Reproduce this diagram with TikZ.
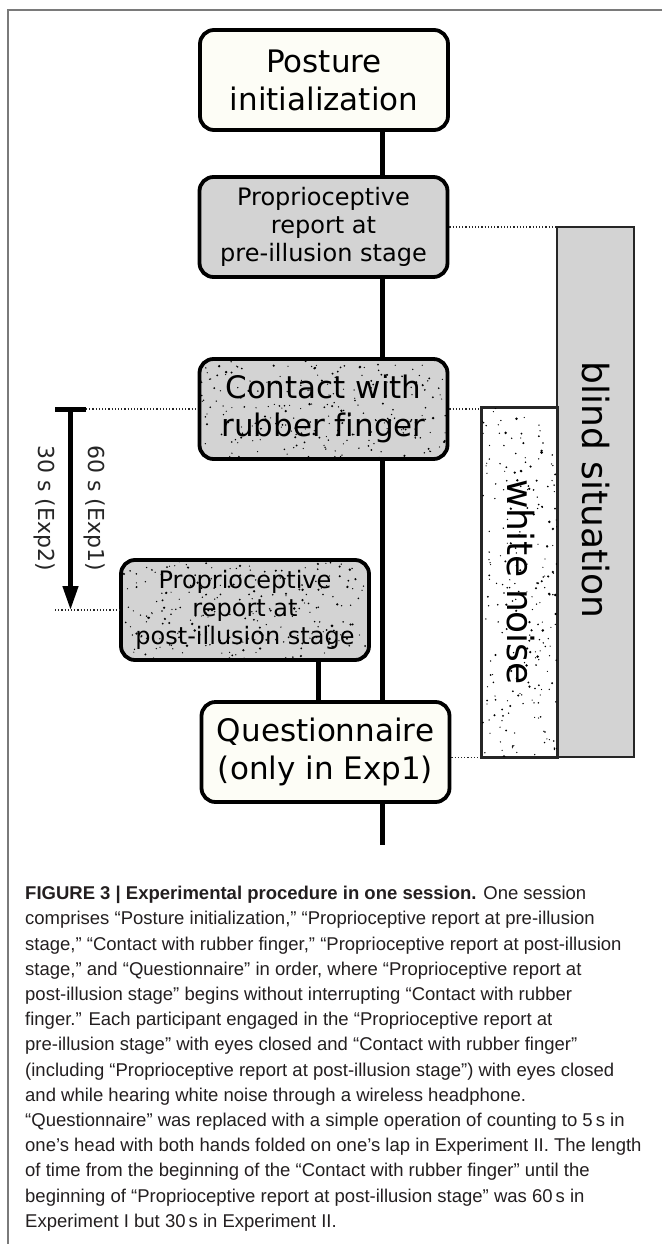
\documentclass[tikz,border=0pt]{standalone}
\usepackage{fontspec}
\setmainfont{DejaVu Sans}[Ligatures=NoCommon]
\newfontfamily\capfont{Liberation Sans}
\usetikzlibrary{calc,arrows.meta}
\definecolor{boxgray}{HTML}{D3D3D3}
\definecolor{cream}{HTML}{FDFDF6}
\definecolor{framegray}{HTML}{7A7A7A}
\definecolor{captext}{HTML}{231F20}
% #1,#2 top-left corner; #3 width; #4 height; #5 count; #6 corner radius
\newcommand{\stipple}[6]{%
  \begin{scope}
  \clip[rounded corners=#6] (#1,#2) rectangle ++(#3,#4);
  \foreach \k in {1,...,#5}{
    \pgfmathsetmacro{\spx}{#1+rnd*#3}
    \pgfmathsetmacro{\spy}{#2+rnd*#4}
    \pgfmathsetmacro{\spr}{0.6+1.0*rnd*rnd}
    \fill[black] (\spx,\spy) circle[radius=\spr pt];
  }
  \end{scope}}
\begin{document}
\begin{tikzpicture}[x=1pt,y=-1pt,
  box/.style={draw=black, line width=3.8pt, rounded corners=14pt, minimum width=248pt, minimum height=100pt, align=center, inner sep=0pt},
  bigtext/.style={font=\fontsize{31}{38}\selectfont},
  smalltext/.style={font=\fontsize{24}{28}\selectfont},
  spineline/.style={line width=5pt},
  dotline/.style={dotted, line width=1.2pt, black!85},
  band/.style={draw=black!85, line width=1.6pt, inner sep=0pt},
  sidelabel/.style={rotate=-90, font=\fontsize{36}{40}\selectfont},
  timelabel/.style={rotate=-90, font=\fontsize{22}{24}\selectfont, text=black!85},
]
\useasboundingbox (0,0) rectangle (662,1244);
\fill[white] (0,0) rectangle (662,1244);
\draw[framegray, line width=2pt] (662,10) -- (8,10) -- (8,1244);

\pgfmathsetseed{4711}
\coordinate (spine) at (382,0);
\coordinate (postx) at (318,0);

% side bands
\node[band, fill=boxgray, minimum width=77pt, minimum height=530pt] (blind) at (595.5,492) {};
\node[band, fill=white, minimum width=75pt, minimum height=349pt] (wn) at (519.5,582.5) {};
\stipple{482}{408}{75}{349}{240}{0pt}
\draw[band] (wn.north west) rectangle (wn.south east);
\node[sidelabel] (blindlabel) at (595.5,490) {blind situation};
\node[sidelabel] (wnlabel) at (521,582) {white noise};

% boxes
\node[box, fill=cream, bigtext] (posture) at (324,80) {Posture\\initialization};
\node[box, fill=boxgray, smalltext] (pre) at (323.5,227) {Proprioceptive\\report at\\pre-illusion stage};
\node[box, fill=boxgray, bigtext] (contact) at (323.5,409) {Contact with\\rubber finger};
\stipple{199.5}{359}{248}{100}{250}{14pt}
\node[box, fill=boxgray, smalltext] (post) at (245,610) {Proprioceptive\\report at\\post-illusion stage};
\stipple{121}{560}{248}{100}{250}{14pt}
\node[box, fill=cream, bigtext] (quest) at (325.5,752) {Questionnaire\\(only in Exp1)};

% spine connectors
\coordinate (spineend) at (382,845);
\draw[spineline] (posture.south -| spine) -- (pre.north -| spine);
\draw[spineline] (pre.south -| spine) -- (contact.north -| spine);
\draw[spineline] (contact.south -| spine) -- (quest.north -| spine);
\draw[spineline] (quest.south -| spine) -- (spineend);
\draw[spineline] (post.south -| postx) -- (quest.north -| postx);

% time arrow
\coordinate (barL) at (55,409);
\coordinate (barR) at (86,409);
\coordinate (arrowtop) at (70.5,409);
\coordinate (arrowtip) at (70.5,610);
\coordinate (tickL) at (55,610);
\draw[line width=5pt] (barL) -- (barR);
\draw[line width=4.5pt, -{Triangle[length=24pt,width=15pt]}] (arrowtop) -- (arrowtip);
\node[timelabel] (lab60) at (95,508) {60 s (Exp1)};
\node[timelabel] (lab30) at (44.5,508) {30 s (Exp2)};

% dotted guides
\draw[dotline] (barR) -- (contact.west);
\draw[dotline] (tickL) -- (post.west);
\draw[dotline] (pre.east) -- (pre.east -| blind.west);
\draw[dotline] (contact.east) -- (contact.east -| wn.west);
\draw[dotline] (quest.east |- wn.south) -- (wn.south west);

% caption
\node[anchor=north west, inner sep=0pt, align=left, text=captext,
      font=\capfont\fontsize{18.5}{25.2}\selectfont] (caption) at (25,886) {%
\textbf{FIGURE 3 | Experimental procedure in one session.} One session\\
comprises “Posture initialization,” “Proprioceptive report at pre-illusion\\
stage,” “Contact with rubber finger,” “Proprioceptive report at post-illusion\\
stage,” and “Questionnaire” in order, where “Proprioceptive report at\\
post-illusion stage” begins without interrupting “Contact with rubber\\
finger.” Each participant engaged in the “Proprioceptive report at\\
pre-illusion stage” with eyes closed and “Contact with rubber finger”\\
(including “Proprioceptive report at post-illusion stage”) with eyes closed\\
and while hearing white noise through a wireless headphone.\\
“Questionnaire” was replaced with a simple operation of counting to 5\,s in\\
one’s head with both hands folded on one’s lap in Experiment II. The length\\
of time from the beginning of the “Contact with rubber finger” until the\\
beginning of “Proprioceptive report at post-illusion stage” was 60\,s in\\
Experiment I but 30\,s in Experiment II.};
\end{tikzpicture}
\end{document}
